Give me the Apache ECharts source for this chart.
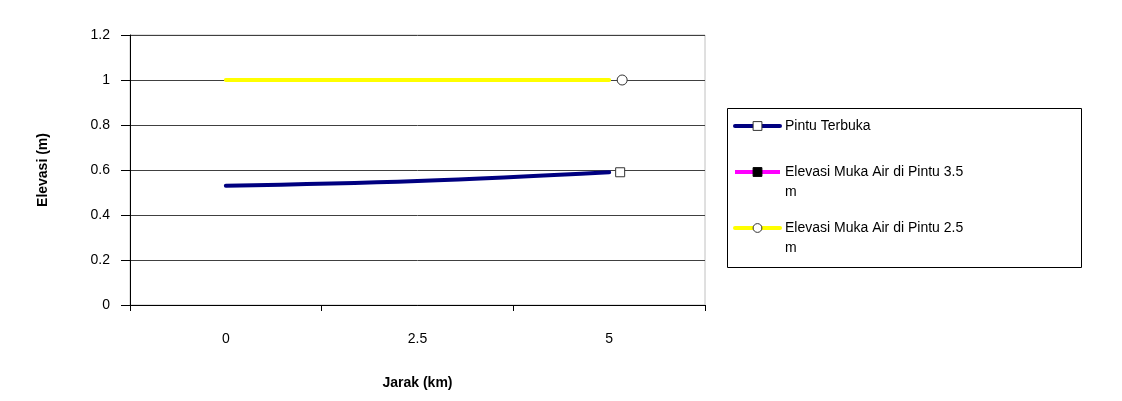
<!DOCTYPE html>
<html>
<head>
<meta charset="utf-8">
<script src="https://cdn.jsdelivr.net/npm/echarts@6/dist/echarts.min.js"></script>
<style>
  html, body { margin: 0; padding: 0; background: #fff; }
  #chart { width: 1122px; height: 401px; }
</style>
</head>
<body>
<div id="chart"></div>
<script>
// data
const jarak = ['0', '2.5', '5'];
const pintuTerbuka = [0.53, 0.551, 0.59];
const pintu35 = [null, null, null];
const pintu25 = [1, 1, 1];
const yTicks = { min: 0, max: 1.2, interval: 0.2 };

const FONT = '"Liberation Sans", Arial, sans-serif';

// marker only drawn on the last point, pushed a bit to the right (as in the source)
const lastMarker = (values, offset) => values.map((v, i) =>
    i === values.length - 1 ? { value: v, symbolOffset: [offset, 0] } : { value: v, symbol: 'none' });

const chart = echarts.init(document.getElementById('chart'));

// one legend per entry so each can sit where the source has it;
// long names wrap the trailing "m", first line level with the icon
const legendAt = (name, top, twoLines) => ({
    data: [name],
    left: 733,
    top: top,
    padding: 0,
    itemWidth: 45,
    itemHeight: 11,
    itemGap: 0,
    selectedMode: false,
    lineStyle: { width: 4 },
    itemStyle: { borderWidth: 1 },
    formatter: n => twoLines ? '\n' + n.replace(/ m$/, '\nm') : n,
    textStyle: { fontFamily: FONT, fontSize: 14, color: '#000', lineHeight: 20 }
});

chart.setOption({
    animation: false,
    backgroundColor: '#fff',
    grid: {
        left: 130, top: 35, right: 417, bottom: 96,
        show: true, borderColor: '#c0c0c0', borderWidth: 1
    },
    legend: [
        legendAt('Pintu Terbuka', 116, false),
        legendAt('Elevasi Muka Air di Pintu 3.5 m', 142, true),
        legendAt('Elevasi Muka Air di Pintu 2.5 m', 198, true)
    ],
    graphic: [{
        type: 'rect',
        shape: { x: 727.5, y: 108.5, width: 354, height: 159 },
        style: { fill: 'none', stroke: '#000', lineWidth: 1 },
        z: 10
    }],
    xAxis: {
        type: 'category',
        data: jarak,
        boundaryGap: true,
        name: 'Jarak (km)',
        nameLocation: 'middle',
        nameGap: 71,
        nameTextStyle: { fontFamily: FONT, fontSize: 14, fontWeight: 'bold', color: '#000' },
        axisLine: { lineStyle: { color: '#000', width: 1 } },
        axisTick: { show: true, length: 6, lineStyle: { color: '#000' } },
        axisLabel: { fontFamily: FONT, fontSize: 14, color: '#000', margin: 27 }
    },
    yAxis: {
        type: 'value',
        min: yTicks.min,
        max: yTicks.max,
        interval: yTicks.interval,
        name: 'Elevasi (m)',
        nameLocation: 'middle',
        nameGap: 80,
        nameTextStyle: { fontFamily: FONT, fontSize: 14, fontWeight: 'bold', color: '#000' },
        axisLine: { show: true, lineStyle: { color: '#000', width: 1 } },
        axisTick: { show: true, length: 9, lineStyle: { color: '#000' } },
        axisLabel: {
            fontFamily: FONT, fontSize: 14, color: '#000', margin: 20,
            formatter: v => String(Math.round(v * 10) / 10)
        },
        splitLine: { show: true, lineStyle: { color: '#404040', width: 1 } }
    },
    series: [
        {
            name: 'Pintu Terbuka',
            type: 'line',
            data: lastMarker(pintuTerbuka, 11),
            smooth: 0.4,
            symbol: 'rect',
            symbolSize: 9,
            showSymbol: true,
            lineStyle: { color: '#000080', width: 4, cap: 'round' },
            itemStyle: { color: '#fff', borderColor: '#333', borderWidth: 1 },
            z: 3
        },
        {
            name: 'Elevasi Muka Air di Pintu 3.5 m',
            type: 'line',
            data: pintu35,
            symbol: 'rect',
            symbolSize: 9,
            lineStyle: { color: '#ff00ff', width: 4 },
            itemStyle: { color: '#000', borderColor: '#000' },
            z: 2
        },
        {
            name: 'Elevasi Muka Air di Pintu 2.5 m',
            type: 'line',
            data: lastMarker(pintu25, 13),
            symbol: 'circle',
            symbolSize: 10,
            showSymbol: true,
            lineStyle: { color: '#ffff00', width: 4, cap: 'round' },
            itemStyle: { color: '#fff', borderColor: '#333', borderWidth: 1 },
            z: 2
        }
    ]
});

window.addEventListener('resize', () => chart.resize());
</script>
</body>
</html>
